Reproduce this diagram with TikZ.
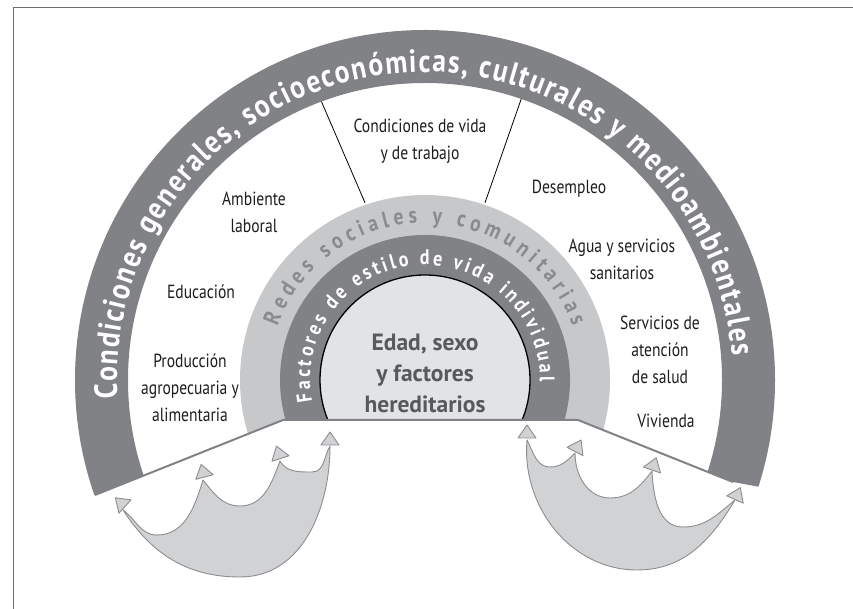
\documentclass[tikz,border=0pt]{standalone}
\usepackage{fontspec}
\setmainfont{PT Sans}
\newfontfamily\labfont[FakeStretch=0.82]{PT Sans}
\newfontfamily\ringfont[FakeStretch=0.86]{PT Sans}
\usetikzlibrary{decorations.text,calc}
\definecolor{dkgray}{RGB}{128,130,133}
\definecolor{ltgray}{RGB}{199,200,202}
\definecolor{inngray}{RGB}{226,227,229}
\definecolor{redestxt}{RGB}{138,139,143}
\definecolor{edadtxt}{RGB}{88,89,91}
\definecolor{arrfill}{RGB}{209,210,212}
\definecolor{arrline}{RGB}{140,141,144}
\definecolor{labtxt}{RGB}{30,28,30}
\definecolor{framegray}{RGB}{110,110,113}
\newcommand\arrhead[2]{\filldraw[arrst] ($(#1)+({#2+90}:9)$) -- ($(#1)+(#2:13)$) -- ($(#1)+({#2-90}:9)$) -- cycle;}
\begin{document}
\begin{tikzpicture}[x=1pt,y=1pt,
  lab/.style={font=\labfont\fontsize{19}{27}\selectfont, text=labtxt, align=center, inner sep=0pt},
  edad/.style={font=\bfseries\fontsize{23.5}{31}\selectfont, text=edadtxt, align=center, inner sep=0pt},
  arrst/.style={fill=arrfill, draw=arrline, line width=0.9, line join=round},
  conn/.style={draw=black, line width=0.8},
  baseln/.style={draw=dkgray, line width=2}]
\useasboundingbox (0,0) rectangle (853,609);
\draw[framegray, line width=1] (13,0) -- (13,601.5) -- (853,601.5);
\coordinate (C) at (425,229);
% rings
\begin{scope}
\clip (0,609) -- (853,609) -- (853,122) -- (760,122) -- (733,127) -- (578,189) -- (283,189) -- (95,114) -- (0,114) -- cycle;
\fill[dkgray, even odd rule] (C) circle[radius=350] (C) circle[radius=297];
\fill[ltgray] (C) circle[radius=185];
\fill[dkgray] (C) circle[radius=145];
\filldraw[fill=inngray, draw=black, line width=1.3] (C) circle[radius=105];
\end{scope}
\coordinate (bl) at (95,114);
\coordinate (bml) at (283,189);
\coordinate (bmr) at (578,189);
\coordinate (br) at (733,127);
\draw[baseln] (bl) -- (bml) -- (bmr) -- (br);
% ring texts
\path[decorate, decoration={text along path, text align={fit to path},
  text={|\ringfont\bfseries\fontsize{32}{32}\selectfont\color{white}|Condiciones generales, socioeconómicas, culturales y medioambientales}}]
  ($(C)+(183.5:308)$) arc[start angle=183.5, end angle=4.5, radius=308];
\path[decorate, decoration={text along path, text align={fit to path},
  text={|\ringfont\bfseries\fontsize{23}{23}\selectfont\color{redestxt}|Redes sociales y comunitarias}}]
  ($(C)+(160:157)$) arc[start angle=160, end angle=20, radius=157];
\path[decorate, decoration={text along path, text align={fit to path},
  text={|\ringfont\bfseries\fontsize{21}{21}\selectfont\color{white}|Factores de estilo de vida individual}}]
  ($(C)+(191:115)$) arc[start angle=191, end angle=-1, radius=115];
% connectors
\coordinate (l1) at ($(C)+(108.7:187)$);
\coordinate (l2) at ($(C)+(110.4:297)$);
\coordinate (r1) at ($(C)+(71.3:187)$);
\coordinate (r2) at ($(C)+(71.1:297)$);
\draw[conn] (l1) -- (l2);
\draw[conn] (r1) -- (r2);
% labels
\node[lab] (cond) at (420,468) {Condiciones de vida\\y de trabajo};
\node[lab] (amb) at (254,397) {Ambiente\\laboral};
\node[lab] (edu) at (201,317) {Educación};
\node[lab] (prod) at (190,221) {Producción\\agropecuaria y\\alimentaria};
\node[lab] (des) at (569,420) {Desempleo};
\node[lab] (agua) at (622,350) {Agua y servicios\\sanitarios};
\node[lab] (serv) at (660,259) {Servicios de\\atención\\de salud};
\node[lab] (viv) at (666,188) {Vivienda};
\node[edad] (edadn) at (425,236) {Edad, sexo\\y factores\\hereditarios};
% left arrow fan
\coordinate (A1c) at (123,99);
\coordinate (A2c) at (203,129);
\coordinate (A3c) at (280,148);
\coordinate (A4c) at (330,163);
\draw[arrst] (A1c) to[out=-57,in=180] (240,32) to[out=0,in=-90] (A4c)
  to[out=-120,in=0] (312,137) to[out=180,in=-60] (A3c)
  to[out=-110,in=0] (240,103) to[out=180,in=-51] (A2c)
  to[out=-107,in=0] (157,74) to[out=180,in=-36] (A1c) -- cycle;
% right arrow fan
\coordinate (B1c) at (527,169);
\coordinate (B2c) at (575,156);
\coordinate (B3c) at (652,138);
\coordinate (B4c) at (735,109);
\draw[arrst] (B1c) to[out=-95,in=180] (637,39) to[out=0,in=-121] (B4c)
  to[out=-141,in=0] (683,82) to[out=180,in=-87] (B3c)
  to[out=-127,in=0] (610,111) to[out=180,in=-90] (B2c)
  to[out=-135,in=0] (550,142) to[out=180,in=-62] (B1c) -- cycle;
% arrow heads
\coordinate (a1) at (125,102.5);
\coordinate (a2) at (204.5,132);
\coordinate (a3) at (280.5,150.5);
\coordinate (a4) at (330,164);
\coordinate (b1) at (527,171);
\coordinate (b2) at (575,157.5);
\coordinate (b3) at (652,139);
\coordinate (b4) at (735,109.5);
\arrhead{a1}{138}
\arrhead{a2}{105}
\arrhead{a3}{108}
\arrhead{a4}{90}
\arrhead{b1}{90}
\arrhead{b2}{62}
\arrhead{b3}{71}
\arrhead{b4}{66}
\end{tikzpicture}
\end{document}
